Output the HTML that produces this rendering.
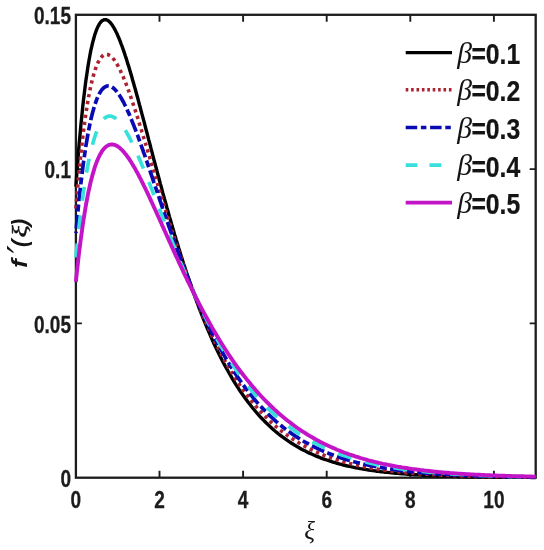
<!DOCTYPE html>
<html lang="en"><head><meta charset="utf-8"><title>f'(xi) versus xi for several beta</title>
<style>
html,body{margin:0;padding:0;background:#fff}
body{width:544px;height:550px;overflow:hidden}
svg{display:block}
.t{font-family:"Liberation Sans",sans-serif;font-weight:700;font-size:23.1px;fill:#1c1c1c;stroke:#1c1c1c;stroke-width:0.3px}
.l{font-family:"Liberation Sans",sans-serif;font-weight:700;font-size:30px;fill:#141414;stroke:#141414;stroke-width:0.25px}
.g{font-family:"Liberation Serif","DejaVu Serif",serif;font-style:italic;font-weight:400;fill:#141414}
.y{font-family:"Liberation Sans",sans-serif;font-weight:700;font-style:italic;font-size:22px;fill:#141414}
.p{font-family:"DejaVu Serif","Liberation Serif",serif;font-style:italic;font-size:35px;fill:#141414}
.x{font-family:"Liberation Serif","DejaVu Serif",serif;font-style:italic;font-weight:400;font-size:22px;fill:#141414;stroke:#141414;stroke-width:0.4px}
.c{fill:none;stroke-linejoin:round}
</style></head><body>
<svg width="544" height="550" viewBox="0 0 544 550">
<rect width="544" height="550" fill="#ffffff"/>
<rect x="75.9" y="14.8" width="459.8" height="462.9" fill="none" stroke="#1c1c1c" stroke-width="2.3"/>
<path d="M159.5,477.7 v-7 M159.5,14.8 v7 M243.1,477.7 v-7 M243.1,14.8 v7 M326.7,477.7 v-7 M326.7,14.8 v7 M410.3,477.7 v-7 M410.3,14.8 v7 M493.9,477.7 v-7 M493.9,14.8 v7 M75.9,323.4 h6 M535.7,323.4 h-6 M75.9,169.1 h6 M535.7,169.1 h-6" stroke="#1c1c1c" stroke-width="1.9" fill="none"/>
<g class="c">
<path d="M75.9,186.5 L76.7,174.9 L77.6,163.8 L78.4,153.3 L79.2,143.3 L80.1,133.8 L80.9,124.8 L81.8,116.3 L82.6,108.2 L83.4,100.6 L84.3,93.5 L85.1,86.7 L85.9,80.4 L86.8,74.4 L87.6,68.9 L88.4,63.7 L89.3,58.8 L90.1,54.3 L90.9,50.1 L91.8,46.3 L92.6,42.7 L93.5,39.5 L94.3,36.5 L95.1,33.8 L96.0,31.4 L96.8,29.2 L97.6,27.3 L98.5,25.6 L99.3,24.1 L100.1,22.9 L101.0,21.8 L101.8,21.0 L102.7,20.4 L103.5,20.0 L104.3,19.7 L105.2,19.6 L106.0,19.7 L106.8,20.0 L107.7,20.4 L108.5,20.9 L109.3,21.6 L110.2,22.5 L111.0,23.4 L111.8,24.5 L112.7,25.8 L113.5,27.1 L114.4,28.6 L115.2,30.1 L116.0,31.8 L116.9,33.5 L117.7,35.4 L118.5,37.3 L119.4,39.3 L120.2,41.4 L121.0,43.6 L121.9,45.8 L122.7,48.2 L123.6,50.6 L124.4,53.0 L125.2,55.5 L126.1,58.1 L126.9,60.7 L127.7,63.4 L128.6,66.1 L129.4,68.8 L130.2,71.6 L131.1,74.5 L131.9,77.3 L132.7,80.2 L133.6,83.2 L134.4,86.2 L135.3,89.2 L136.1,92.2 L136.9,95.2 L137.8,98.3 L138.6,101.4 L139.4,104.5 L140.3,107.6 L141.1,110.8 L141.9,113.9 L142.8,117.1 L143.6,120.2 L144.5,123.4 L145.3,126.6 L146.1,129.8 L147.0,133.0 L147.8,136.2 L148.6,139.4 L149.5,142.6 L150.3,145.7 L151.1,148.9 L152.0,152.1 L152.8,155.3 L153.6,158.5 L154.5,161.7 L155.3,164.8 L156.2,168.0 L157.0,171.1 L157.8,174.3 L158.7,177.4 L159.5,180.5 L160.3,183.6 L161.2,186.7 L162.0,189.8 L162.8,192.9 L163.7,195.9 L164.5,199.0 L165.4,202.0 L166.2,205.0 L167.0,208.0 L167.9,211.0 L168.7,214.0 L169.5,216.9 L170.4,219.8 L171.2,222.7 L172.0,225.6 L172.9,228.5 L173.7,231.3 L174.5,234.2 L175.4,237.0 L176.2,239.8 L177.1,242.5 L177.9,245.3 L178.7,248.0 L179.6,250.7 L180.4,253.4 L181.2,256.1 L182.1,258.7 L182.9,261.4 L183.7,264.0 L184.6,266.6 L185.4,269.1 L186.3,271.7 L187.1,274.2 L187.9,276.7 L188.8,279.1 L189.6,281.6 L190.4,284.0 L191.3,286.4 L192.1,288.8 L192.9,291.2 L193.8,293.5 L194.6,295.8 L195.4,298.1 L196.3,300.4 L197.1,302.7 L198.0,304.9 L198.8,307.1 L199.6,309.3 L200.5,311.5 L201.3,313.6 L203.4,318.9 L205.5,324.0 L207.6,329.0 L209.7,333.9 L211.7,338.6 L213.8,343.2 L215.9,347.7 L218.0,352.0 L220.1,356.3 L222.2,360.4 L224.3,364.4 L226.4,368.2 L228.5,372.0 L230.6,375.6 L232.6,379.2 L234.7,382.6 L236.8,385.9 L238.9,389.2 L241.0,392.3 L243.1,395.3 L245.2,398.2 L247.3,401.1 L249.4,403.8 L251.5,406.5 L253.5,409.0 L255.6,411.5 L257.7,413.9 L259.8,416.3 L261.9,418.5 L264.0,420.7 L266.1,422.8 L268.2,424.8 L270.3,426.8 L272.4,428.7 L274.4,430.5 L276.5,432.2 L278.6,434.0 L280.7,435.6 L282.8,437.2 L284.9,438.7 L287.0,440.2 L289.1,441.6 L291.2,443.0 L293.3,444.3 L295.3,445.6 L297.4,446.8 L299.5,448.0 L301.6,449.2 L303.7,450.3 L305.8,451.3 L307.9,452.4 L310.0,453.4 L312.1,454.3 L314.2,455.2 L316.2,456.1 L318.3,456.9 L320.4,457.8 L322.5,458.6 L324.6,459.3 L326.7,460.0 L328.8,460.7 L330.9,461.4 L333.0,462.1 L335.1,462.7 L337.1,463.3 L339.2,463.9 L341.3,464.4 L343.4,465.0 L345.5,465.5 L347.6,466.0 L349.7,466.4 L351.8,466.9 L353.9,467.3 L356.0,467.8 L358.0,468.2 L360.1,468.6 L362.2,468.9 L364.3,469.3 L366.4,469.6 L368.5,470.0 L370.6,470.3 L372.7,470.6 L374.8,470.9 L376.9,471.2 L378.9,471.4 L381.0,471.7 L383.1,471.9 L385.2,472.2 L387.3,472.4 L389.4,472.6 L391.5,472.8 L393.6,473.0 L395.7,473.2 L397.8,473.4 L399.8,473.6 L401.9,473.8 L404.0,473.9 L406.1,474.1 L408.2,474.3 L410.3,474.4 L412.4,474.5 L414.5,474.7 L416.6,474.8 L418.7,474.9 L420.7,475.0 L422.8,475.2 L424.9,475.3 L427.0,475.4 L429.1,475.5 L431.2,475.6 L433.3,475.7 L435.4,475.7 L437.5,475.8 L439.6,475.9 L441.6,476.0 L443.7,476.1 L445.8,476.1 L447.9,476.2 L450.0,476.3 L452.1,476.3 L454.2,476.4 L456.3,476.4 L458.4,476.5 L460.5,476.5 L462.5,476.6 L464.6,476.6 L466.7,476.7 L468.8,476.7 L470.9,476.8 L473.0,476.8 L475.1,476.9 L477.2,476.9 L479.3,476.9 L481.4,477.0 L483.4,477.0 L485.5,477.0 L487.6,477.1 L489.7,477.1 L491.8,477.1 L493.9,477.1 L496.0,477.2 L498.1,477.2 L500.2,477.2 L502.3,477.2 L504.3,477.3 L506.4,477.3 L508.5,477.3 L510.6,477.3 L512.7,477.3 L514.8,477.3 L516.9,477.4 L519.0,477.4 L521.1,477.4 L523.2,477.4 L525.2,477.4 L527.3,477.4 L529.4,477.4 L531.5,477.5 L533.6,477.5 L535.7,477.5" stroke="#000000" stroke-width="3.4"/>
<path d="M75.9,208.5 L76.7,198.2 L77.6,188.3 L78.4,179.0 L79.2,170.0 L80.1,161.6 L80.9,153.5 L81.8,145.8 L82.6,138.6 L83.4,131.7 L84.3,125.2 L85.1,119.1 L85.9,113.3 L86.8,107.9 L87.6,102.8 L88.4,98.0 L89.3,93.5 L90.1,89.3 L90.9,85.4 L91.8,81.7 L92.6,78.4 L93.5,75.2 L94.3,72.4 L95.1,69.8 L96.0,67.4 L96.8,65.2 L97.6,63.3 L98.5,61.6 L99.3,60.0 L100.1,58.7 L101.0,57.6 L101.8,56.6 L102.7,55.8 L103.5,55.2 L104.3,54.8 L105.2,54.5 L106.0,54.3 L106.8,54.4 L107.7,54.5 L108.5,54.8 L109.3,55.2 L110.2,55.7 L111.0,56.4 L111.8,57.2 L112.7,58.0 L113.5,59.0 L114.4,60.1 L115.2,61.3 L116.0,62.6 L116.9,64.0 L117.7,65.4 L118.5,67.0 L119.4,68.6 L120.2,70.3 L121.0,72.1 L121.9,73.9 L122.7,75.8 L123.6,77.8 L124.4,79.8 L125.2,81.9 L126.1,84.0 L126.9,86.2 L127.7,88.4 L128.6,90.7 L129.4,93.0 L130.2,95.4 L131.1,97.8 L131.9,100.3 L132.7,102.7 L133.6,105.3 L134.4,107.8 L135.3,110.4 L136.1,113.0 L136.9,115.6 L137.8,118.2 L138.6,120.9 L139.4,123.6 L140.3,126.3 L141.1,129.0 L141.9,131.7 L142.8,134.5 L143.6,137.2 L144.5,140.0 L145.3,142.8 L146.1,145.6 L147.0,148.4 L147.8,151.2 L148.6,154.0 L149.5,156.8 L150.3,159.6 L151.1,162.4 L152.0,165.2 L152.8,168.0 L153.6,170.8 L154.5,173.6 L155.3,176.5 L156.2,179.3 L157.0,182.1 L157.8,184.8 L158.7,187.6 L159.5,190.4 L160.3,193.2 L161.2,195.9 L162.0,198.7 L162.8,201.5 L163.7,204.2 L164.5,206.9 L165.4,209.6 L166.2,212.3 L167.0,215.0 L167.9,217.7 L168.7,220.4 L169.5,223.0 L170.4,225.7 L171.2,228.3 L172.0,230.9 L172.9,233.5 L173.7,236.1 L174.5,238.7 L175.4,241.2 L176.2,243.8 L177.1,246.3 L177.9,248.8 L178.7,251.3 L179.6,253.7 L180.4,256.2 L181.2,258.6 L182.1,261.1 L182.9,263.5 L183.7,265.9 L184.6,268.2 L185.4,270.6 L186.3,272.9 L187.1,275.2 L187.9,277.5 L188.8,279.8 L189.6,282.1 L190.4,284.3 L191.3,286.5 L192.1,288.7 L192.9,290.9 L193.8,293.1 L194.6,295.3 L195.4,297.4 L196.3,299.5 L197.1,301.6 L198.0,303.7 L198.8,305.7 L199.6,307.8 L200.5,309.8 L201.3,311.8 L203.4,316.7 L205.5,321.5 L207.6,326.2 L209.7,330.8 L211.7,335.3 L213.8,339.7 L215.9,343.9 L218.0,348.0 L220.1,352.1 L222.2,356.0 L224.3,359.8 L226.4,363.6 L228.5,367.2 L230.6,370.7 L232.6,374.1 L234.7,377.5 L236.8,380.7 L238.9,383.8 L241.0,386.9 L243.1,389.9 L245.2,392.7 L247.3,395.5 L249.4,398.2 L251.5,400.9 L253.5,403.4 L255.6,405.9 L257.7,408.3 L259.8,410.6 L261.9,412.9 L264.0,415.1 L266.1,417.2 L268.2,419.3 L270.3,421.3 L272.4,423.2 L274.4,425.1 L276.5,426.9 L278.6,428.6 L280.7,430.3 L282.8,432.0 L284.9,433.5 L287.0,435.1 L289.1,436.6 L291.2,438.0 L293.3,439.4 L295.3,440.7 L297.4,442.0 L299.5,443.3 L301.6,444.5 L303.7,445.7 L305.8,446.8 L307.9,447.9 L310.0,449.0 L312.1,450.0 L314.2,451.0 L316.2,452.0 L318.3,452.9 L320.4,453.8 L322.5,454.7 L324.6,455.5 L326.7,456.3 L328.8,457.1 L330.9,457.8 L333.0,458.5 L335.1,459.2 L337.1,459.9 L339.2,460.6 L341.3,461.2 L343.4,461.8 L345.5,462.4 L347.6,463.0 L349.7,463.5 L351.8,464.0 L353.9,464.5 L356.0,465.0 L358.0,465.5 L360.1,466.0 L362.2,466.4 L364.3,466.8 L366.4,467.2 L368.5,467.6 L370.6,468.0 L372.7,468.4 L374.8,468.7 L376.9,469.0 L378.9,469.4 L381.0,469.7 L383.1,470.0 L385.2,470.3 L387.3,470.6 L389.4,470.8 L391.5,471.1 L393.6,471.3 L395.7,471.6 L397.8,471.8 L399.8,472.0 L401.9,472.3 L404.0,472.5 L406.1,472.7 L408.2,472.9 L410.3,473.1 L412.4,473.2 L414.5,473.4 L416.6,473.6 L418.7,473.7 L420.7,473.9 L422.8,474.0 L424.9,474.2 L427.0,474.3 L429.1,474.4 L431.2,474.6 L433.3,474.7 L435.4,474.8 L437.5,474.9 L439.6,475.0 L441.6,475.1 L443.7,475.2 L445.8,475.3 L447.9,475.4 L450.0,475.5 L452.1,475.6 L454.2,475.7 L456.3,475.8 L458.4,475.8 L460.5,475.9 L462.5,476.0 L464.6,476.0 L466.7,476.1 L468.8,476.2 L470.9,476.2 L473.0,476.3 L475.1,476.4 L477.2,476.4 L479.3,476.5 L481.4,476.5 L483.4,476.6 L485.5,476.6 L487.6,476.6 L489.7,476.7 L491.8,476.7 L493.9,476.8 L496.0,476.8 L498.1,476.8 L500.2,476.9 L502.3,476.9 L504.3,476.9 L506.4,477.0 L508.5,477.0 L510.6,477.0 L512.7,477.1 L514.8,477.1 L516.9,477.1 L519.0,477.1 L521.1,477.2 L523.2,477.2 L525.2,477.2 L527.3,477.2 L529.4,477.2 L531.5,477.3 L533.6,477.3 L535.7,477.3" stroke="#ac2230" stroke-width="3.6" stroke-dasharray="3.3 3.7"/>
<path d="M75.9,233.0 L76.7,223.7 L77.6,214.8 L78.4,206.3 L79.2,198.2 L80.1,190.4 L80.9,183.0 L81.8,176.0 L82.6,169.3 L83.4,163.0 L84.3,157.0 L85.1,151.2 L85.9,145.8 L86.8,140.7 L87.6,135.9 L88.4,131.3 L89.3,127.1 L90.1,123.0 L90.9,119.3 L91.8,115.7 L92.6,112.5 L93.5,109.4 L94.3,106.5 L95.1,103.9 L96.0,101.5 L96.8,99.3 L97.6,97.3 L98.5,95.4 L99.3,93.8 L100.1,92.3 L101.0,91.0 L101.8,89.8 L102.7,88.9 L103.5,88.0 L104.3,87.3 L105.2,86.8 L106.0,86.4 L106.8,86.1 L107.7,86.0 L108.5,86.0 L109.3,86.1 L110.2,86.3 L111.0,86.6 L111.8,87.0 L112.7,87.6 L113.5,88.2 L114.4,89.0 L115.2,89.8 L116.0,90.7 L116.9,91.7 L117.7,92.8 L118.5,93.9 L119.4,95.2 L120.2,96.5 L121.0,97.8 L121.9,99.3 L122.7,100.8 L123.6,102.3 L124.4,104.0 L125.2,105.6 L126.1,107.4 L126.9,109.1 L127.7,111.0 L128.6,112.8 L129.4,114.8 L130.2,116.7 L131.1,118.7 L131.9,120.8 L132.7,122.8 L133.6,124.9 L134.4,127.1 L135.3,129.3 L136.1,131.5 L136.9,133.7 L137.8,135.9 L138.6,138.2 L139.4,140.5 L140.3,142.8 L141.1,145.1 L141.9,147.5 L142.8,149.9 L143.6,152.3 L144.5,154.6 L145.3,157.1 L146.1,159.5 L147.0,161.9 L147.8,164.4 L148.6,166.8 L149.5,169.3 L150.3,171.7 L151.1,174.2 L152.0,176.7 L152.8,179.1 L153.6,181.6 L154.5,184.1 L155.3,186.6 L156.2,189.1 L157.0,191.5 L157.8,194.0 L158.7,196.5 L159.5,199.0 L160.3,201.4 L161.2,203.9 L162.0,206.4 L162.8,208.8 L163.7,211.3 L164.5,213.7 L165.4,216.2 L166.2,218.6 L167.0,221.0 L167.9,223.4 L168.7,225.8 L169.5,228.2 L170.4,230.6 L171.2,233.0 L172.0,235.4 L172.9,237.7 L173.7,240.1 L174.5,242.4 L175.4,244.7 L176.2,247.0 L177.1,249.3 L177.9,251.6 L178.7,253.9 L179.6,256.2 L180.4,258.4 L181.2,260.6 L182.1,262.9 L182.9,265.1 L183.7,267.3 L184.6,269.5 L185.4,271.6 L186.3,273.8 L187.1,275.9 L187.9,278.0 L188.8,280.1 L189.6,282.2 L190.4,284.3 L191.3,286.4 L192.1,288.4 L192.9,290.5 L193.8,292.5 L194.6,294.5 L195.4,296.5 L196.3,298.5 L197.1,300.4 L198.0,302.4 L198.8,304.3 L199.6,306.2 L200.5,308.1 L201.3,310.0 L203.4,314.6 L205.5,319.1 L207.6,323.6 L209.7,327.9 L211.7,332.1 L213.8,336.3 L215.9,340.3 L218.0,344.3 L220.1,348.2 L222.2,351.9 L224.3,355.6 L226.4,359.2 L228.5,362.7 L230.6,366.1 L232.6,369.4 L234.7,372.7 L236.8,375.8 L238.9,378.9 L241.0,381.9 L243.1,384.8 L245.2,387.6 L247.3,390.4 L249.4,393.0 L251.5,395.7 L253.5,398.2 L255.6,400.7 L257.7,403.1 L259.8,405.4 L261.9,407.6 L264.0,409.8 L266.1,412.0 L268.2,414.1 L270.3,416.1 L272.4,418.0 L274.4,419.9 L276.5,421.8 L278.6,423.6 L280.7,425.3 L282.8,427.0 L284.9,428.6 L287.0,430.2 L289.1,431.7 L291.2,433.2 L293.3,434.7 L295.3,436.1 L297.4,437.4 L299.5,438.7 L301.6,440.0 L303.7,441.3 L305.8,442.5 L307.9,443.6 L310.0,444.8 L312.1,445.8 L314.2,446.9 L316.2,447.9 L318.3,448.9 L320.4,449.9 L322.5,450.8 L324.6,451.7 L326.7,452.6 L328.8,453.4 L330.9,454.2 L333.0,455.0 L335.1,455.8 L337.1,456.5 L339.2,457.2 L341.3,457.9 L343.4,458.6 L345.5,459.3 L347.6,459.9 L349.7,460.5 L351.8,461.1 L353.9,461.7 L356.0,462.2 L358.0,462.7 L360.1,463.2 L362.2,463.7 L364.3,464.2 L366.4,464.7 L368.5,465.1 L370.6,465.6 L372.7,466.0 L374.8,466.4 L376.9,466.8 L378.9,467.2 L381.0,467.5 L383.1,467.9 L385.2,468.2 L387.3,468.6 L389.4,468.9 L391.5,469.2 L393.6,469.5 L395.7,469.8 L397.8,470.1 L399.8,470.3 L401.9,470.6 L404.0,470.8 L406.1,471.1 L408.2,471.3 L410.3,471.5 L412.4,471.8 L414.5,472.0 L416.6,472.2 L418.7,472.4 L420.7,472.6 L422.8,472.7 L424.9,472.9 L427.0,473.1 L429.1,473.3 L431.2,473.4 L433.3,473.6 L435.4,473.7 L437.5,473.9 L439.6,474.0 L441.6,474.1 L443.7,474.3 L445.8,474.4 L447.9,474.5 L450.0,474.6 L452.1,474.7 L454.2,474.8 L456.3,474.9 L458.4,475.0 L460.5,475.1 L462.5,475.2 L464.6,475.3 L466.7,475.4 L468.8,475.5 L470.9,475.6 L473.0,475.6 L475.1,475.7 L477.2,475.8 L479.3,475.9 L481.4,475.9 L483.4,476.0 L485.5,476.1 L487.6,476.1 L489.7,476.2 L491.8,476.2 L493.9,476.3 L496.0,476.3 L498.1,476.4 L500.2,476.4 L502.3,476.5 L504.3,476.5 L506.4,476.6 L508.5,476.6 L510.6,476.7 L512.7,476.7 L514.8,476.7 L516.9,476.8 L519.0,476.8 L521.1,476.8 L523.2,476.9 L525.2,476.9 L527.3,476.9 L529.4,477.0 L531.5,477.0 L533.6,477.0 L535.7,477.0" stroke="#0a0ab4" stroke-width="3.7" stroke-dasharray="13.5 3.4 7 3.4" stroke-dashoffset="-4.7"/>
<path d="M75.9,257.5 L76.7,248.8 L77.6,240.6 L78.4,232.7 L79.2,225.1 L80.1,217.9 L80.9,211.0 L81.8,204.4 L82.6,198.2 L83.4,192.2 L84.3,186.5 L85.1,181.2 L85.9,176.1 L86.8,171.2 L87.6,166.6 L88.4,162.3 L89.3,158.2 L90.1,154.4 L90.9,150.8 L91.8,147.3 L92.6,144.2 L93.5,141.2 L94.3,138.4 L95.1,135.8 L96.0,133.4 L96.8,131.2 L97.6,129.2 L98.5,127.3 L99.3,125.6 L100.1,124.0 L101.0,122.6 L101.8,121.4 L102.7,120.3 L103.5,119.3 L104.3,118.5 L105.2,117.8 L106.0,117.2 L106.8,116.8 L107.7,116.4 L108.5,116.2 L109.3,116.1 L110.2,116.1 L111.0,116.2 L111.8,116.4 L112.7,116.7 L113.5,117.1 L114.4,117.5 L115.2,118.1 L116.0,118.7 L116.9,119.4 L117.7,120.2 L118.5,121.0 L119.4,122.0 L120.2,123.0 L121.0,124.0 L121.9,125.1 L122.7,126.3 L123.6,127.5 L124.4,128.8 L125.2,130.2 L126.1,131.5 L126.9,133.0 L127.7,134.5 L128.6,136.0 L129.4,137.6 L130.2,139.2 L131.1,140.8 L131.9,142.5 L132.7,144.2 L133.6,146.0 L134.4,147.7 L135.3,149.5 L136.1,151.4 L136.9,153.2 L137.8,155.1 L138.6,157.0 L139.4,159.0 L140.3,160.9 L141.1,162.9 L141.9,164.9 L142.8,166.9 L143.6,168.9 L144.5,171.0 L145.3,173.0 L146.1,175.1 L147.0,177.2 L147.8,179.3 L148.6,181.4 L149.5,183.5 L150.3,185.6 L151.1,187.7 L152.0,189.9 L152.8,192.0 L153.6,194.2 L154.5,196.3 L155.3,198.5 L156.2,200.6 L157.0,202.8 L157.8,204.9 L158.7,207.1 L159.5,209.3 L160.3,211.4 L161.2,213.6 L162.0,215.7 L162.8,217.9 L163.7,220.0 L164.5,222.2 L165.4,224.3 L166.2,226.5 L167.0,228.6 L167.9,230.8 L168.7,232.9 L169.5,235.0 L170.4,237.1 L171.2,239.2 L172.0,241.3 L172.9,243.4 L173.7,245.5 L174.5,247.6 L175.4,249.7 L176.2,251.7 L177.1,253.8 L177.9,255.8 L178.7,257.9 L179.6,259.9 L180.4,261.9 L181.2,263.9 L182.1,265.9 L182.9,267.9 L183.7,269.9 L184.6,271.9 L185.4,273.8 L186.3,275.8 L187.1,277.7 L187.9,279.6 L188.8,281.6 L189.6,283.5 L190.4,285.4 L191.3,287.2 L192.1,289.1 L192.9,291.0 L193.8,292.8 L194.6,294.6 L195.4,296.5 L196.3,298.3 L197.1,300.1 L198.0,301.8 L198.8,303.6 L199.6,305.4 L200.5,307.1 L201.3,308.9 L203.4,313.1 L205.5,317.3 L207.6,321.5 L209.7,325.5 L211.7,329.5 L213.8,333.3 L215.9,337.2 L218.0,340.9 L220.1,344.5 L222.2,348.1 L224.3,351.6 L226.4,355.0 L228.5,358.4 L230.6,361.6 L232.6,364.8 L234.7,367.9 L236.8,371.0 L238.9,373.9 L241.0,376.9 L243.1,379.7 L245.2,382.5 L247.3,385.2 L249.4,387.8 L251.5,390.4 L253.5,392.9 L255.6,395.3 L257.7,397.7 L259.8,400.0 L261.9,402.3 L264.0,404.5 L266.1,406.6 L268.2,408.7 L270.3,410.7 L272.4,412.7 L274.4,414.6 L276.5,416.5 L278.6,418.3 L280.7,420.1 L282.8,421.8 L284.9,423.5 L287.0,425.2 L289.1,426.7 L291.2,428.3 L293.3,429.8 L295.3,431.3 L297.4,432.7 L299.5,434.1 L301.6,435.4 L303.7,436.7 L305.8,438.0 L307.9,439.2 L310.0,440.4 L312.1,441.6 L314.2,442.7 L316.2,443.8 L318.3,444.8 L320.4,445.9 L322.5,446.9 L324.6,447.8 L326.7,448.8 L328.8,449.7 L330.9,450.6 L333.0,451.5 L335.1,452.3 L337.1,453.1 L339.2,453.9 L341.3,454.7 L343.4,455.4 L345.5,456.1 L347.6,456.8 L349.7,457.5 L351.8,458.1 L353.9,458.8 L356.0,459.4 L358.0,460.0 L360.1,460.6 L362.2,461.1 L364.3,461.7 L366.4,462.2 L368.5,462.7 L370.6,463.2 L372.7,463.7 L374.8,464.1 L376.9,464.6 L378.9,465.0 L381.0,465.4 L383.1,465.9 L385.2,466.2 L387.3,466.6 L389.4,467.0 L391.5,467.4 L393.6,467.7 L395.7,468.0 L397.8,468.4 L399.8,468.7 L401.9,469.0 L404.0,469.3 L406.1,469.6 L408.2,469.8 L410.3,470.1 L412.4,470.4 L414.5,470.6 L416.6,470.9 L418.7,471.1 L420.7,471.3 L422.8,471.5 L424.9,471.7 L427.0,471.9 L429.1,472.1 L431.2,472.3 L433.3,472.5 L435.4,472.7 L437.5,472.9 L439.6,473.0 L441.6,473.2 L443.7,473.4 L445.8,473.5 L447.9,473.7 L450.0,473.8 L452.1,473.9 L454.2,474.1 L456.3,474.2 L458.4,474.3 L460.5,474.4 L462.5,474.5 L464.6,474.7 L466.7,474.8 L468.8,474.9 L470.9,475.0 L473.0,475.1 L475.1,475.2 L477.2,475.2 L479.3,475.3 L481.4,475.4 L483.4,475.5 L485.5,475.6 L487.6,475.7 L489.7,475.7 L491.8,475.8 L493.9,475.9 L496.0,475.9 L498.1,476.0 L500.2,476.1 L502.3,476.1 L504.3,476.2 L506.4,476.2 L508.5,476.3 L510.6,476.3 L512.7,476.4 L514.8,476.4 L516.9,476.5 L519.0,476.5 L521.1,476.6 L523.2,476.6 L525.2,476.6 L527.3,476.7 L529.4,476.7 L531.5,476.8 L533.6,476.8 L535.7,476.8" stroke="#38e0dc" stroke-width="3.7" stroke-dasharray="14 14.5"/>
<path d="M75.9,281.8 L76.7,273.7 L77.6,266.0 L78.4,258.6 L79.2,251.5 L80.1,244.7 L80.9,238.2 L81.8,232.0 L82.6,226.1 L83.4,220.5 L84.3,215.1 L85.1,210.0 L85.9,205.2 L86.8,200.6 L87.6,196.2 L88.4,192.1 L89.3,188.2 L90.1,184.5 L90.9,181.0 L91.8,177.7 L92.6,174.6 L93.5,171.6 L94.3,168.9 L95.1,166.3 L96.0,163.9 L96.8,161.7 L97.6,159.7 L98.5,157.7 L99.3,156.0 L100.1,154.4 L101.0,152.9 L101.8,151.5 L102.7,150.3 L103.5,149.2 L104.3,148.3 L105.2,147.4 L106.0,146.7 L106.8,146.1 L107.7,145.6 L108.5,145.1 L109.3,144.8 L110.2,144.6 L111.0,144.5 L111.8,144.4 L112.7,144.5 L113.5,144.6 L114.4,144.8 L115.2,145.1 L116.0,145.5 L116.9,145.9 L117.7,146.4 L118.5,147.0 L119.4,147.6 L120.2,148.3 L121.0,149.1 L121.9,149.9 L122.7,150.8 L123.6,151.7 L124.4,152.7 L125.2,153.7 L126.1,154.7 L126.9,155.9 L127.7,157.0 L128.6,158.2 L129.4,159.4 L130.2,160.7 L131.1,162.0 L131.9,163.4 L132.7,164.7 L133.6,166.1 L134.4,167.6 L135.3,169.1 L136.1,170.6 L136.9,172.1 L137.8,173.6 L138.6,175.2 L139.4,176.8 L140.3,178.4 L141.1,180.0 L141.9,181.7 L142.8,183.4 L143.6,185.1 L144.5,186.8 L145.3,188.5 L146.1,190.2 L147.0,192.0 L147.8,193.7 L148.6,195.5 L149.5,197.3 L150.3,199.1 L151.1,200.9 L152.0,202.7 L152.8,204.5 L153.6,206.3 L154.5,208.2 L155.3,210.0 L156.2,211.9 L157.0,213.7 L157.8,215.6 L158.7,217.4 L159.5,219.3 L160.3,221.1 L161.2,223.0 L162.0,224.9 L162.8,226.7 L163.7,228.6 L164.5,230.5 L165.4,232.3 L166.2,234.2 L167.0,236.1 L167.9,237.9 L168.7,239.8 L169.5,241.7 L170.4,243.5 L171.2,245.4 L172.0,247.2 L172.9,249.0 L173.7,250.9 L174.5,252.7 L175.4,254.6 L176.2,256.4 L177.1,258.2 L177.9,260.0 L178.7,261.8 L179.6,263.6 L180.4,265.4 L181.2,267.2 L182.1,269.0 L182.9,270.8 L183.7,272.6 L184.6,274.3 L185.4,276.1 L186.3,277.8 L187.1,279.6 L187.9,281.3 L188.8,283.0 L189.6,284.7 L190.4,286.4 L191.3,288.1 L192.1,289.8 L192.9,291.5 L193.8,293.2 L194.6,294.9 L195.4,296.5 L196.3,298.2 L197.1,299.8 L198.0,301.4 L198.8,303.1 L199.6,304.7 L200.5,306.3 L201.3,307.9 L203.4,311.8 L205.5,315.7 L207.6,319.5 L209.7,323.2 L211.7,326.9 L213.8,330.5 L215.9,334.1 L218.0,337.6 L220.1,341.0 L222.2,344.4 L224.3,347.7 L226.4,351.0 L228.5,354.2 L230.6,357.3 L232.6,360.3 L234.7,363.3 L236.8,366.3 L238.9,369.2 L241.0,372.0 L243.1,374.7 L245.2,377.4 L247.3,380.1 L249.4,382.6 L251.5,385.2 L253.5,387.6 L255.6,390.1 L257.7,392.4 L259.8,394.7 L261.9,397.0 L264.0,399.2 L266.1,401.3 L268.2,403.4 L270.3,405.5 L272.4,407.5 L274.4,409.4 L276.5,411.3 L278.6,413.2 L280.7,415.0 L282.8,416.8 L284.9,418.5 L287.0,420.2 L289.1,421.8 L291.2,423.4 L293.3,425.0 L295.3,426.5 L297.4,428.0 L299.5,429.4 L301.6,430.8 L303.7,432.2 L305.8,433.5 L307.9,434.8 L310.0,436.1 L312.1,437.3 L314.2,438.5 L316.2,439.7 L318.3,440.8 L320.4,441.9 L322.5,443.0 L324.6,444.0 L326.7,445.0 L328.8,446.0 L330.9,447.0 L333.0,447.9 L335.1,448.8 L337.1,449.7 L339.2,450.5 L341.3,451.4 L343.4,452.2 L345.5,453.0 L347.6,453.7 L349.7,454.5 L351.8,455.2 L353.9,455.9 L356.0,456.6 L358.0,457.2 L360.1,457.9 L362.2,458.5 L364.3,459.1 L366.4,459.7 L368.5,460.3 L370.6,460.8 L372.7,461.3 L374.8,461.9 L376.9,462.4 L378.9,462.9 L381.0,463.3 L383.1,463.8 L385.2,464.2 L387.3,464.7 L389.4,465.1 L391.5,465.5 L393.6,465.9 L395.7,466.3 L397.8,466.7 L399.8,467.0 L401.9,467.4 L404.0,467.7 L406.1,468.0 L408.2,468.3 L410.3,468.7 L412.4,469.0 L414.5,469.2 L416.6,469.5 L418.7,469.8 L420.7,470.1 L422.8,470.3 L424.9,470.6 L427.0,470.8 L429.1,471.0 L431.2,471.2 L433.3,471.5 L435.4,471.7 L437.5,471.9 L439.6,472.1 L441.6,472.3 L443.7,472.4 L445.8,472.6 L447.9,472.8 L450.0,473.0 L452.1,473.1 L454.2,473.3 L456.3,473.4 L458.4,473.6 L460.5,473.7 L462.5,473.9 L464.6,474.0 L466.7,474.1 L468.8,474.2 L470.9,474.4 L473.0,474.5 L475.1,474.6 L477.2,474.7 L479.3,474.8 L481.4,474.9 L483.4,475.0 L485.5,475.1 L487.6,475.2 L489.7,475.3 L491.8,475.4 L493.9,475.4 L496.0,475.5 L498.1,475.6 L500.2,475.7 L502.3,475.7 L504.3,475.8 L506.4,475.9 L508.5,475.9 L510.6,476.0 L512.7,476.1 L514.8,476.1 L516.9,476.2 L519.0,476.2 L521.1,476.3 L523.2,476.3 L525.2,476.4 L527.3,476.4 L529.4,476.5 L531.5,476.5 L533.6,476.6 L535.7,476.6" stroke="#c414c8" stroke-width="3.9"/>
</g>
<text class="t" text-anchor="middle" transform="translate(75.9,507.6) scale(0.825,1)">0</text>
<text class="t" text-anchor="middle" transform="translate(159.5,507.6) scale(0.825,1)">2</text>
<text class="t" text-anchor="middle" transform="translate(243.1,507.6) scale(0.825,1)">4</text>
<text class="t" text-anchor="middle" transform="translate(326.7,507.6) scale(0.825,1)">6</text>
<text class="t" text-anchor="middle" transform="translate(410.3,507.6) scale(0.825,1)">8</text>
<text class="t" text-anchor="middle" transform="translate(493.9,507.6) scale(0.825,1)">10</text>
<text class="t" text-anchor="end" transform="translate(71,486.9) scale(0.825,1)">0</text>
<text class="t" text-anchor="end" transform="translate(71,332.6) scale(0.825,1)">0.05</text>
<text class="t" text-anchor="end" transform="translate(71,178.3) scale(0.825,1)">0.1</text>
<text class="t" text-anchor="end" transform="translate(71,24.0) scale(0.825,1)">0.15</text>
<path d="M405.7,52.6 H452" stroke="#000000" stroke-width="3.4" fill="none"/>
<text class="g" font-size="28.5" transform="translate(457.3,62.8) scale(1.04,1)">β</text>
<text class="l" transform="translate(471.4,64.1) scale(0.825,1)">=0.1</text>
<path d="M405.7,89.8 H452" stroke="#ac2230" stroke-width="3.6" fill="none" stroke-dasharray="2.6 2.8"/>
<text class="g" font-size="28.5" transform="translate(457.3,100.0) scale(1.04,1)">β</text>
<text class="l" transform="translate(471.4,101.3) scale(0.825,1)">=0.2</text>
<path d="M405.7,127.5 H452" stroke="#0a0ab4" stroke-width="3.7" fill="none" stroke-dasharray="11.5 3.7 5.5 3.7"/>
<text class="g" font-size="28.5" transform="translate(457.3,137.7) scale(1.04,1)">β</text>
<text class="l" transform="translate(471.4,139.0) scale(0.825,1)">=0.3</text>
<path d="M405.7,165.2 H452" stroke="#38e0dc" stroke-width="3.7" fill="none" stroke-dasharray="11.8 12"/>
<text class="g" font-size="28.5" transform="translate(457.3,175.4) scale(1.04,1)">β</text>
<text class="l" transform="translate(471.4,176.7) scale(0.825,1)">=0.4</text>
<path d="M405.7,202.6 H452" stroke="#c414c8" stroke-width="3.9" fill="none"/>
<text class="g" font-size="28.5" transform="translate(457.3,212.8) scale(1.04,1)">β</text>
<text class="l" transform="translate(471.4,214.1) scale(0.825,1)">=0.5</text>
<text class="g" font-size="25" transform="translate(304.3,538.5)">ξ</text>
<g transform="translate(27.2,0) rotate(-90)"><text class="y" transform="translate(-268,0) scale(1.2,1)">f</text><text class="p" transform="translate(-253.3,6.2)">′</text><text class="y" transform="translate(-247.0,0)">(</text><text class="x" transform="translate(-237.6,0) scale(1.3,1)">ξ</text><text class="y" transform="translate(-226.2,0)">)</text></g>
</svg></body></html>
